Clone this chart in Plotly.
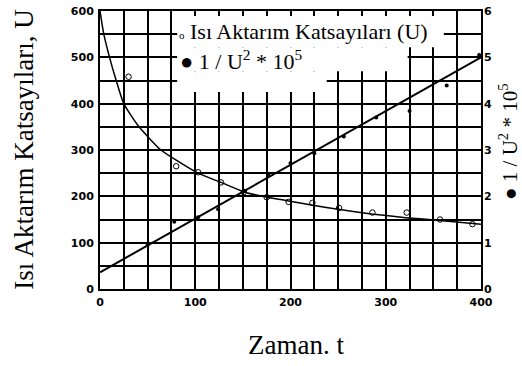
import plotly.graph_objects as go

# Heat transfer coefficient U measured against time t
t_u = [30, 80, 103, 127, 151, 175, 198, 223, 251, 286, 322, 357, 391]
u_vals = [458, 265, 252, 230, 209, 198, 188, 186, 175, 165, 165, 150, 140]

# Smooth U(t) curve through the measurements
t_curve = [0, 4, 10, 17, 25, 41, 64, 80, 103, 127, 152, 176, 198, 225, 250, 285, 321, 357, 400]
u_curve = [600, 550, 500, 450, 400, 350, 300, 278, 250, 230, 209, 198, 190, 180, 172, 162, 154, 148, 140]

# 1/U^2 * 10^5 values and their straight-line fit (right axis)
t_inv = [50, 78, 103, 124, 152, 177, 200, 225, 256, 290, 325, 364, 398]
inv_vals = [0.95, 1.45, 1.55, 1.72, 2.12, 2.48, 2.72, 2.93, 3.29, 3.70, 3.84, 4.39, 5.05]
t_fit = [0, 400]
inv_fit = [0.36, 5.0]

# Axis ticks
x_ticks = [0, 100, 200, 300, 400]
x_labels = ["0", "100", "200", "300", "400"]
y_ticks = [0, 100, 200, 300, 400, 500, 600]
y_labels = ["0", "100", "200", "300", "400", "500", "600"]
y2_ticks = [0, 1, 2, 3, 4, 5, 6]
y2_labels = ["0", "1", "2", "3", "4", "5", "6"]

# Blank area behind the legend text (t from, t to, U from, U to)
legend_blank = [
    (81, 361, 522, 600),
    (81, 323, 470, 522),
    (81, 238, 425, 470),
]

serif = "Liberation Serif"
tick_font = dict(family="DejaVu Sans", size=11, color="black", weight="bold")
grid_style = dict(showgrid=True, gridcolor="black", gridwidth=1.5)

fig = go.Figure()

fig.add_trace(go.Scatter(
    x=t_curve, y=u_curve, mode="lines",
    line=dict(color="black", width=1.5, shape="spline", smoothing=0.6),
    showlegend=False, hoverinfo="skip"))
fig.add_trace(go.Scatter(
    x=t_u, y=u_vals, mode="markers",
    marker=dict(symbol="circle-open", size=5.5, color="black", line=dict(width=1)),
    showlegend=False))
fig.add_trace(go.Scatter(
    x=t_fit, y=inv_fit, mode="lines", line=dict(color="black", width=2),
    yaxis="y2", showlegend=False, hoverinfo="skip"))
fig.add_trace(go.Scatter(
    x=t_inv, y=inv_vals, mode="markers", marker=dict(size=4, color="black"),
    yaxis="y2", showlegend=False))

for x0, x1, y0, y1 in legend_blank:
    fig.add_shape(type="rect", xref="x", yref="y", x0=x0, x1=x1, y0=y0, y1=y1,
                  fillcolor="white", line=dict(width=0), layer="between")

fig.update_layout(
    width=522, height=366,
    margin=dict(l=100, r=41, t=5, b=77),
    paper_bgcolor="white", plot_bgcolor="white",
    xaxis=dict(range=[0, 400], tickvals=x_ticks, ticktext=x_labels, **grid_style,
               minor=dict(dtick=25, tick0=0, ticks="inside", ticklen=5, tickcolor="black",
                          tickwidth=1.5, **grid_style),
               showline=True, linecolor="black", linewidth=2, mirror="allticks",
               ticks="inside", ticklen=5, tickcolor="black", tickwidth=1.5,
               tickfont=tick_font, zeroline=False, ticklabelstandoff=2),
    yaxis=dict(range=[0, 600], tickvals=y_ticks, ticktext=y_labels, **grid_style,
               minor=dict(dtick=50, tick0=0, **grid_style),
               showline=True, linecolor="black", linewidth=2, mirror=True,
               ticks="", tickfont=tick_font, zeroline=False, ticklabelstandoff=2),
    yaxis2=dict(range=[0, 6], overlaying="y", side="right", tickvals=y2_ticks,
                ticktext=y2_labels, showgrid=False, zeroline=False, ticks="",
                showline=False, tickfont=tick_font, ticklabelstandoff=2),
    annotations=[
        dict(text="Isı Aktarım Katsayıları, U", textangle=-90, xref="paper", yref="paper",
             x=-0.2, y=0.5, xanchor="center", yanchor="middle", showarrow=False,
             font=dict(family=serif, size=27, color="black")),
        dict(text="Zaman. t", xref="paper", yref="paper", x=0.515, y=-0.2,
             xanchor="center", yanchor="middle", showarrow=False,
             font=dict(family=serif, size=27, color="black")),
        dict(text="● 1 / U<sup>2</sup> * 10<sup>5</sup>", textangle=-90, xref="paper", yref="paper",
             x=1.072, y=0.53, xanchor="center", yanchor="middle", showarrow=False,
             font=dict(family=serif, size=21, color="black")),
        dict(text="<span style='font-size:11px'>o</span> Isı Aktarım Katsayıları (U)",
             xref="x", yref="y", x=81, y=556, xanchor="left", yanchor="middle",
             showarrow=False, font=dict(family=serif, size=22, color="black")),
        dict(text="● 1 / U<sup>2</sup> * 10<sup>5</sup>",
             xref="x", yref="y", x=82, y=494, xanchor="left", yanchor="middle",
             showarrow=False, font=dict(family=serif, size=22, color="black")),
    ],
)

fig.write_html("out.html")
